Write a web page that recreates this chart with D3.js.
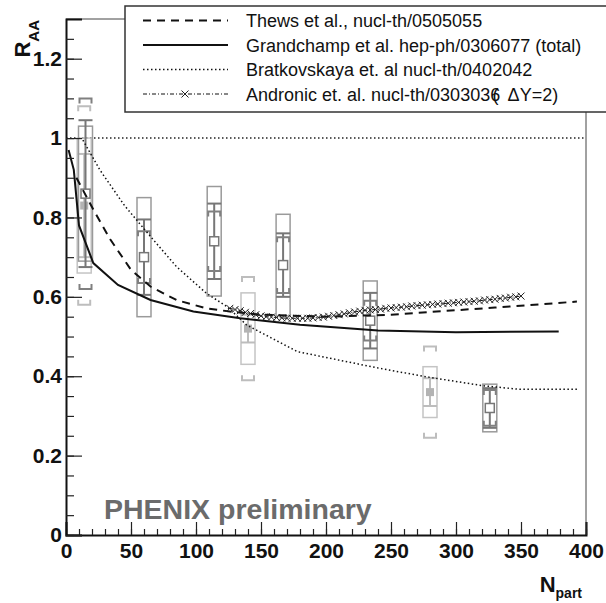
<!DOCTYPE html>
<html>
<head>
<meta charset="utf-8">
<script src="https://cdn.jsdelivr.net/npm/d3@7"></script>
<style>
  body { margin: 0; background: #fff; }
  svg { font-family: "Liberation Sans", Arial, sans-serif; }
</style>
</head>
<body>
<svg id="chart" width="606" height="603"></svg>
<script>
/* J/psi R_AA vs N_part, PHENIX preliminary with model curves */

//forward rapidity points (open squares, dark gray)
const fwdNpart = [15, 60, 114, 167, 234, 326];
const fwdRaa   = [0.86, 0.70, 0.74, 0.68, 0.54, 0.32];
const fwdStat  = [0.185, 0.095, 0.095, 0.08, 0.07, 0.05];
const fwdBox   = [0.17, 0.15, 0.138, 0.128, 0.10, 0.06];
const fwdBrk   = [0.24, 0.065, 0.075, 0.07, 0.05, 0.045];

//mid rapidity points (filled squares, light gray)
const midNpart = [14, 140, 280];
const midRaa   = [0.83, 0.52, 0.36];
const midStat  = [0.13, 0.035, 0.035];
const midBox   = [0.17, 0.09, 0.064];
const midBrk   = [0.25, 0.13, 0.115];

//model curves
const thewsN = [8, 21, 34, 50, 65, 85, 108, 126, 150, 200, 250, 285, 330, 393];
const thewsR = [0.90, 0.82, 0.745, 0.668, 0.626, 0.592, 0.571, 0.563, 0.555, 0.55, 0.555, 0.563, 0.573, 0.588];

const grandN = [2, 6, 10, 21, 40, 65, 98, 134, 180, 240, 300, 379];
const grandR = [0.97, 0.92, 0.78, 0.685, 0.63, 0.592, 0.563, 0.546, 0.53, 0.515, 0.511, 0.513];

const bratN = [13, 26, 45, 65, 85, 108, 124, 139, 178, 241, 280, 321, 349, 393];
const bratR = [0.995, 0.92, 0.83, 0.752, 0.676, 0.609, 0.575, 0.529, 0.462, 0.42, 0.397, 0.376, 0.367, 0.367];

const andrN = [126,130,134,138,142,146,150,154,158,162,166,170,174,178,182,186,190,194,198,202,
               206,210,214,218,222,226,230,234,238,242,246,250,254,258,262,266,270,274,278,282,
               286,290,294,298,302,306,310,314,318,322,326,330,334,338,342,346,350];
const andrR = [0.571,0.568,0.565,0.561,0.558,0.555,0.552,0.550,0.549,0.548,0.547,0.546,0.546,0.546,0.546,0.546,0.547,0.548,0.549,0.551,
               0.553,0.555,0.557,0.560,0.562,0.564,0.566,0.567,0.568,0.569,0.571,0.572,0.573,0.574,0.575,0.577,0.578,0.579,0.580,0.581,
               0.582,0.583,0.584,0.585,0.586,0.587,0.588,0.589,0.590,0.592,0.593,0.594,0.596,0.597,0.599,0.600,0.602];

//axis ticks
const xTicks = [0, 50, 100, 150, 200, 250, 300, 350, 400];
const yTicks = [0, 0.2, 0.4, 0.6, 0.8, 1, 1.2];
const xMinor = d3.range(0, 401, 10);
const yMinor = d3.range(0, 1.3, 0.05);

//legend texts
const legendLabels = [
  "Thews et al., nucl-th/0505055",
  "Grandchamp et al. hep-ph/0306077 (total)",
  "Bratkovskaya et. al nucl-th/0402042",
  "Andronic et. al. nucl-th/0303036"
];

const svg = d3.select("#chart");
const mLeft = 66, mRight = 586, mTop = 19, mBottom = 535;

const x = d3.scaleLinear().domain([0, 400]).range([mLeft, mRight]);
const y = d3.scaleLinear().domain([0, 1.3]).range([mBottom, mTop]);

//frame (top and right thin)
svg.append("path")
   .attr("d", `M${mLeft},${mTop}H${mRight}V${mBottom}`)
   .attr("fill", "none")
   .attr("stroke", "#444")
   .attr("stroke-width", 1);

//reference line at 1
svg.append("line")
   .attr("x1", x(0)).attr("x2", x(400))
   .attr("y1", y(1)).attr("y2", y(1))
   .attr("stroke", "#222")
   .attr("stroke-width", 1.5)
   .attr("stroke-dasharray", "1.5,2.5");

//draws one data point with its box, stat bar and brackets
function drawPoint(g, n, r, stat, box, brk, style){
  let cx = x(n);
  let hw = 7;
  g.append("rect")
   .attr("x", cx - hw).attr("y", y(r + box))
   .attr("width", hw * 2).attr("height", y(r - box) - y(r + box))
   .attr("fill", "none")
   .attr("stroke", style.box)
   .attr("stroke-width", 1.5);
  //stat bar
  g.append("line")
   .attr("x1", cx).attr("x2", cx)
   .attr("y1", y(r + stat)).attr("y2", y(r - stat))
   .attr("stroke", style.stat).attr("stroke-width", 2);
  [r + stat, r - stat].forEach(v => {
    g.append("line")
     .attr("x1", cx - hw).attr("x2", cx + hw)
     .attr("y1", y(v)).attr("y2", y(v))
     .attr("stroke", style.stat).attr("stroke-width", 2);
  });
  //brackets
  let bw = 6, leg = 5;
  g.append("path")
   .attr("d", `M${cx - bw},${y(r + brk) + leg}V${y(r + brk)}H${cx + bw}V${y(r + brk) + leg}`
            + `M${cx - bw},${y(r - brk) - leg}V${y(r - brk)}H${cx + bw}V${y(r - brk) - leg}`)
   .attr("fill", "none")
   .attr("stroke", style.brk)
   .attr("stroke-width", 2);
  //marker
  let s = style.size;
  g.append("rect")
   .attr("x", cx - s / 2).attr("y", y(r) - s / 2)
   .attr("width", s).attr("height", s)
   .attr("fill", style.fill)
   .attr("stroke", style.mark)
   .attr("stroke-width", style.filled ? 0 : 1.5);
}

const pts = svg.append("g");
const midStyle = {box: "#c4c4c4", stat: "#bdbdbd", brk: "#bdbdbd", fill: "#b3b3b3", mark: "#b3b3b3", size: 8, filled: true};
const fwdStyle = {box: "#9a9a9a", stat: "#777", brk: "#808080", fill: "#fff", mark: "#777", size: 9, filled: false};

midNpart.forEach((n, i) => drawPoint(pts, n, midRaa[i], midStat[i], midBox[i], midBrk[i], midStyle));
fwdNpart.forEach((n, i) => drawPoint(pts, n, fwdRaa[i], fwdStat[i], fwdBox[i], fwdBrk[i], fwdStyle));

//curves
const line = d3.line().x(d => x(d[0])).y(d => y(d[1]));
const curves = [
  {n: thewsN, r: thewsR, dash: "8,6", w: 2},
  {n: grandN, r: grandR, dash: null, w: 2},
  {n: bratN, r: bratR, dash: "1.5,2.5", w: 1.5},
  {n: andrN, r: andrR, dash: "4,2,1,2", w: 1}
];
curves.forEach(c => {
  svg.append("path")
     .datum(c.n.map((v, i) => [v, c.r[i]]))
     .attr("d", line)
     .attr("fill", "none")
     .attr("stroke", "#111")
     .attr("stroke-width", c.w)
     .attr("stroke-dasharray", c.dash);
});

//crosses on the Andronic curve
const cross = "M-3.5,-3.5L3.5,3.5M-3.5,3.5L3.5,-3.5";
svg.append("g").selectAll("path")
   .data(andrN)
   .enter()
   .append("path")
   .attr("transform", (d, i) => "translate(" + x(d) + "," + y(andrR[i]) + ")")
   .attr("d", cross)
   .attr("fill", "none")
   .attr("stroke", "#222")
   .attr("stroke-width", 1);

//axes, ticks point inwards
svg.append("g")
   .attr("transform", "translate(0," + mBottom + ")")
   .call(d3.axisBottom(x).tickValues(xTicks).tickSize(-13).tickPadding(8).tickFormat(d3.format("d")));
svg.append("g")
   .attr("transform", "translate(0," + mBottom + ")")
   .call(d3.axisBottom(x).tickValues(xMinor).tickSize(-6).tickFormat(""))
   .select(".domain").remove();

svg.append("g")
   .attr("transform", "translate(" + mLeft + ",0)")
   .call(d3.axisLeft(y).tickValues(yTicks).tickSize(-16).tickPadding(4).tickFormat(d3.format("~g")));
svg.append("g")
   .attr("transform", "translate(" + mLeft + ",0)")
   .call(d3.axisLeft(y).tickValues(yMinor).tickSize(-8).tickFormat(""))
   .select(".domain").remove();

svg.selectAll(".domain").attr("stroke", "#111").attr("stroke-width", 2);
svg.selectAll(".tick line").attr("stroke", "#222").attr("stroke-width", 1.2);
svg.selectAll(".tick text")
   .attr("font-family", "Liberation Sans, Arial, sans-serif")
   .attr("font-weight", "bold")
   .attr("font-size", "21px")
   .attr("fill", "#111");

//axis titles
const yTitle = svg.append("text")
   .attr("transform", "translate(30,20) rotate(-90)")
   .attr("text-anchor", "end")
   .attr("font-weight", "bold")
   .attr("font-size", "22px")
   .attr("fill", "#111");
yTitle.append("tspan").text("R");
yTitle.append("tspan").attr("font-size", "15px").attr("dy", 9).text("AA");

const xTitle = svg.append("text")
   .attr("x", 582).attr("y", 592)
   .attr("text-anchor", "end")
   .attr("font-weight", "bold")
   .attr("font-size", "22px")
   .attr("fill", "#111");
xTitle.append("tspan").text("N");
xTitle.append("tspan").attr("font-size", "14px").attr("dy", 6).text("part");

//PHENIX label
svg.append("text")
   .attr("x", 104).attr("y", 519)
   .attr("font-weight", "bold")
   .attr("font-size", "28.5px")
   .attr("fill", "#6b6b6b")
   .text("PHENIX preliminary");

//legend
const legend = svg.append("g");
legend.append("rect")
   .attr("x", 125).attr("y", 6)
   .attr("width", 485).attr("height", 106)
   .attr("fill", "#fff")
   .attr("stroke", "#333")
   .attr("stroke-width", 1.5);

const rowY = [20.5, 45, 69.5, 94];
legendLabels.forEach((t, i) => {
  let c = curves[i];
  legend.append("line")
     .attr("x1", 143).attr("x2", 228)
     .attr("y1", rowY[i]).attr("y2", rowY[i])
     .attr("stroke", "#111")
     .attr("stroke-width", c.w)
     .attr("stroke-dasharray", c.dash);
  let txt = legend.append("text")
     .attr("x", 246).attr("y", rowY[i] + 6.5)
     .attr("font-size", "18px")
     .attr("fill", "#111")
     .text(t);
  if(i === 3){
    txt.append("tspan").attr("dx", "-0.42em").text("(");
    txt.append("tspan").attr("dx", "0.5em").text("\u0394Y=2)");
  }
});
legend.append("path")
   .attr("transform", "translate(185," + rowY[3] + ")")
   .attr("d", cross)
   .attr("fill", "none")
   .attr("stroke", "#222")
   .attr("stroke-width", 1);
</script>
</body>
</html>
